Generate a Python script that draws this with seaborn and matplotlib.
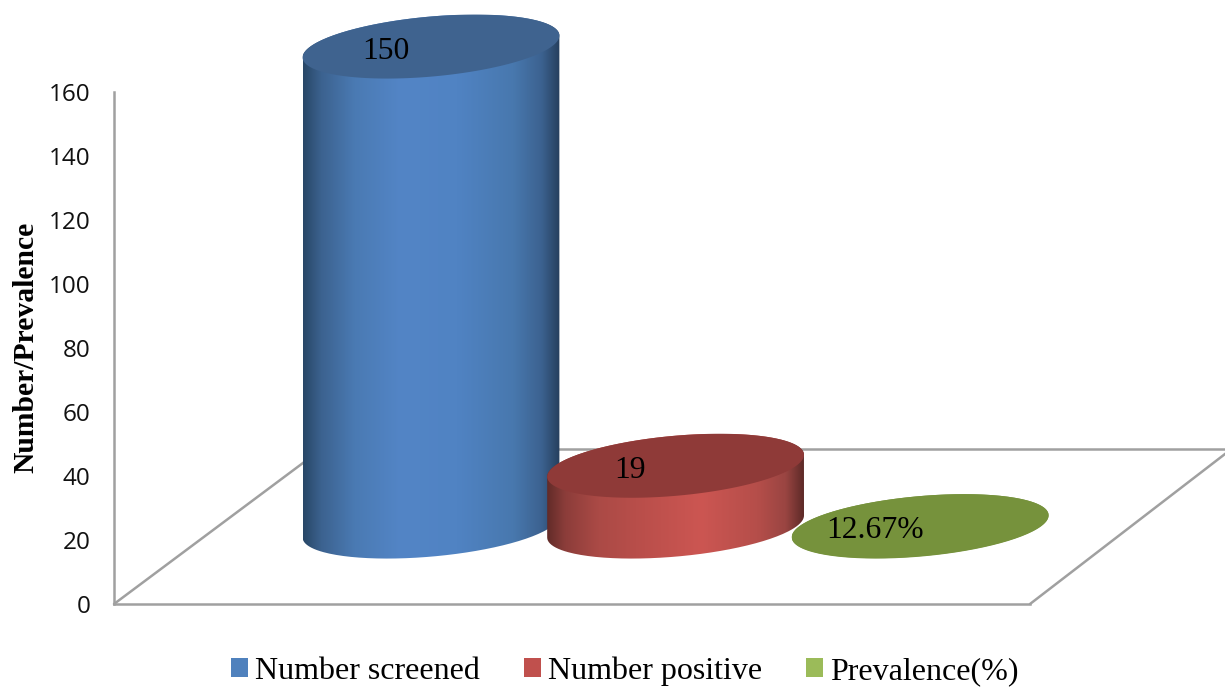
import numpy as np
import matplotlib
matplotlib.use("Agg")
import matplotlib.pyplot as plt
from matplotlib.colors import LinearSegmentedColormap
from matplotlib.patches import Patch, PathPatch, Polygon
from matplotlib.path import Path
import seaborn as sns

categories = ["Number screened", "Number positive", "Prevalence(%)"]
values = [150, 19, 0.1267]
value_labels = ["150", "19", "12.67%"]
y_ticks = [0, 20, 40, 60, 80, 100, 120, 140, 160]

swatch_colors = ["#4f81bd", "#c0504d", "#9bbb59"]
cap_colors = ["#3f638f", "#8f3a38", "#76923c"]
ramp_stops = [0.0, 0.07, 0.2, 0.38, 0.6, 0.82, 0.93, 1.0]
body_ramps = [
    ["#284767", "#3c628f", "#4a7ab3", "#5385c6", "#5083c3", "#4878ae", "#3c6290", "#26405e"],
    ["#622b29", "#8c3d3a", "#ab4a46", "#bb4f4b", "#cc5652", "#b54e4a", "#9a4542", "#5e2a28"],
    ["#76923c"] * 8,
]
draw_order = [1, 2, 4]

GREY = "#a0a0a0"
W, H = 1225, 688
SERIF = "Liberation Serif"

sns.set_theme(style="white")
fig = plt.figure(figsize=(W / 100, H / 100), dpi=100)
ax = fig.add_axes([114 / W, 1 - 604 / H, (1030 - 114) / W, (604 - 92) / H])

sns.barplot(x=categories, y=values, hue=categories, palette=swatch_colors,
            width=1.05, dodge=False, legend=False, ax=ax)
bars = sorted(ax.patches, key=lambda b: b.get_x())
for bar in bars:
    bar.set_visible(False)

# Oblique projection of the floor: depth lifts a base by this many value units
floor_lift = 24.2
floor_back = 48.4
cap_ry = 10.0
tilt = np.radians(20)

xlim = (-1.296, 2.449)
ylim = (0, 160)


def ring(cx, cy, rx, t):
    return cx + rx * np.cos(t), cy + cap_ry * np.sin(t + tilt)


for bar, text, cap, ramp, z in zip(bars, value_labels, cap_colors, body_ramps, draw_order):
    rx = bar.get_width() / 2
    cx = bar.get_x() + rx
    base = floor_lift
    top = floor_lift + bar.get_height()

    # Cylinder wall: lower arc of the base joined to the upper arc of the cap
    lower = np.linspace(np.pi, 2 * np.pi, 120)
    upper = np.linspace(0, np.pi, 120)
    xs = np.r_[ring(cx, base, rx, lower)[0], ring(cx, top, rx, upper)[0]]
    ys = np.r_[ring(cx, base, rx, lower)[1], ring(cx, top, rx, upper)[1]]
    wall = Path(np.c_[xs, ys])
    cmap = LinearSegmentedColormap.from_list("wall", list(zip(ramp_stops, ramp)))
    shade = ax.imshow(np.linspace(0, 1, 256)[None, :], cmap=cmap, aspect="auto",
                      extent=(cx - rx, cx + rx, base - cap_ry, top + cap_ry),
                      zorder=z, interpolation="bilinear")
    clip = PathPatch(wall, transform=ax.transData, fc="none", ec="none")
    shade.set_clip_path(clip)
    shade.set_clip_box(fig.bbox)

    t = np.linspace(0, 2 * np.pi, 240)
    ax.add_patch(Polygon(np.c_[ring(cx, top, rx, t)], closed=True, fc=cap, ec="none",
                         zorder=z + 0.1, clip_on=False))
    ax.text(cx - 0.185, top - 1.4, text, ha="center", va="center", family=SERIF,
            fontsize=22.8, color="black", zorder=z + 0.2, clip_on=False)

ax.set_xlim(xlim)
ax.set_ylim(ylim)
ax.set_xticks([])
ax.set_yticks(y_ticks)
ax.tick_params(axis="y", length=0, pad=17, labelsize=17.5, labelcolor="#111111")
for label in ax.get_yticklabels():
    label.set_family("Open Sans")
    label.set_ha("right")

sns.despine(ax=ax, top=True, right=True)
for side in ("left", "bottom"):
    ax.spines[side].set_color(GREY)
    ax.spines[side].set_linewidth(1.8)

# Floor outline: the two receding edges and the back edge
slope_left = 1.34 * 3.2 / 244.6
slope_right = 1.30 * 3.2 / 244.6
back_left = xlim[0] + floor_back * slope_left
back_right = xlim[1] + floor_back * slope_right
floor_style = dict(color=GREY, lw=1.8, clip_on=False, zorder=0.5)
ax.plot([xlim[0], back_left], [0, floor_back], **floor_style)
ax.plot([xlim[1], back_right], [0, floor_back], **floor_style)
ax.plot([back_left, back_right], [floor_back, floor_back], **floor_style)

ax.set_ylabel("Number/Prevalence", family=SERIF, fontweight="bold", fontsize=21.3,
              color="black")
ax.yaxis.set_label_coords((39 - 114) / (1030 - 114), 0.502)

handles = [Patch(fc=c, ec="none") for c in swatch_colors]
fig.legend(handles, categories, loc="center", bbox_to_anchor=(625 / W, 1 - 671 / H),
           ncol=3, frameon=False, prop={"family": SERIF, "size": 23},
           handlelength=0.53, handleheight=0.5, handletextpad=0.22, columnspacing=1.375,
           borderpad=0, labelcolor="black")

fig.savefig("out.png", dpi=100, facecolor="white")
